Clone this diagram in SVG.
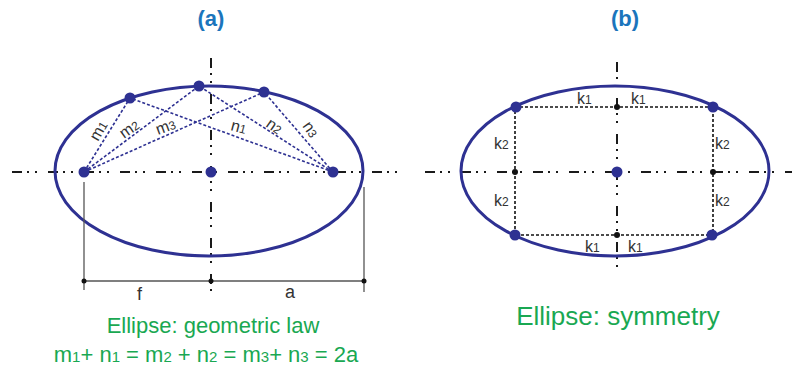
<svg xmlns="http://www.w3.org/2000/svg" width="801" height="371" viewBox="0 0 801 371">
<style>
.title{font-family:"Liberation Sans",Arial,sans-serif;font-weight:bold;font-size:22px;fill:#1b75bc;text-anchor:middle}
.green{font-family:"Liberation Sans",Arial,sans-serif;font-size:22px;fill:#19a852;text-anchor:middle}
.big{font-size:26px}
.lbl{font-family:"Liberation Sans",Arial,sans-serif;font-size:16px;fill:#333}
.dl{font-size:18px}
.sub{font-size:12px}
.gsub{font-size:15px}
.ell{fill:none;stroke:#2e3192;stroke-width:3}
.axis{fill:none;stroke:#1a1a1a;stroke-width:2;stroke-dasharray:10 5 2 6 2 11}
.bdash{fill:none;stroke:#2e3192;stroke-width:1.6;stroke-dasharray:3 2}
.kdash{fill:none;stroke:#111;stroke-width:1.6;stroke-dasharray:3 2}
.dim{fill:none;stroke:#555;stroke-width:1.3}
.pt{fill:#2e3192}
.sm{fill:#111}
</style>
<text class="title" x="211" y="26">(a)</text>
<text class="title" x="625" y="26">(b)</text>
<g id="axes">
<line class="axis" x1="12" y1="172" x2="398" y2="172"/>
<line class="axis" x1="211" y1="58" x2="211" y2="293"/>
<line class="axis" x1="425" y1="172" x2="792" y2="172"/>
<line class="axis" x1="617" y1="62" x2="617" y2="278"/>
</g>
<g id="ellipse-a"><ellipse class="ell" cx="209" cy="171" rx="154" ry="85"/></g>
<g id="ellipse-b"><ellipse class="ell" cx="615" cy="171" rx="154" ry="85"/></g>
<g id="connectors">
<line class="bdash" x1="84" y1="172" x2="130" y2="98"/>
<line class="bdash" x1="84" y1="172" x2="199" y2="86"/>
<line class="bdash" x1="84" y1="172" x2="264" y2="92"/>
<line class="bdash" x1="333" y1="172" x2="130" y2="98"/>
<line class="bdash" x1="333" y1="172" x2="199" y2="86"/>
<line class="bdash" x1="333" y1="172" x2="264" y2="92"/>
<rect class="kdash" x="515" y="107" width="198" height="128"/>
<line class="dim" x1="84" y1="182" x2="84" y2="290"/>
<line class="dim" x1="364" y1="187" x2="364" y2="292"/>
<line class="dim" x1="84" y1="281" x2="364" y2="281"/>
</g>
<g id="points-a">
<circle class="pt" cx="84" cy="172" r="5.5"/>
<circle class="pt" cx="211" cy="172" r="5.5"/>
<circle class="pt" cx="333" cy="172" r="5.5"/>
<circle class="pt" cx="130" cy="98" r="5.5"/>
<circle class="pt" cx="199" cy="86" r="5.5"/>
<circle class="pt" cx="264" cy="92" r="5.5"/>
<circle class="sm" cx="84" cy="281" r="2.5"/>
<circle class="sm" cx="211" cy="281" r="2.5"/>
<circle class="sm" cx="364" cy="281" r="2.5"/>
</g>
<g id="points-b">
<circle class="pt" cx="617" cy="172" r="5.5"/>
<circle class="pt" cx="516" cy="107" r="5.5"/>
<circle class="pt" cx="713" cy="107" r="5.5"/>
<circle class="pt" cx="515" cy="235" r="5.5"/>
<circle class="pt" cx="712" cy="235" r="5.5"/>
<circle class="sm" cx="617" cy="107" r="3"/>
<circle class="sm" cx="515" cy="172" r="3"/>
<circle class="sm" cx="713" cy="172" r="3"/>
<circle class="sm" cx="617" cy="235" r="3"/>
</g>
<g id="labels-a">
<text class="lbl" transform="translate(98,142) rotate(-60)">m<tspan class="sub">1</tspan></text>
<text class="lbl" transform="translate(124,139) rotate(-35)">m<tspan class="sub">2</tspan></text>
<text class="lbl" transform="translate(158,135) rotate(-20)">m<tspan class="sub">3</tspan></text>
<text class="lbl" transform="translate(230,130) rotate(15)">n<tspan class="sub">1</tspan></text>
<text class="lbl" transform="translate(265,126) rotate(35)">n<tspan class="sub">2</tspan></text>
<text class="lbl" transform="translate(302,126) rotate(55)">n<tspan class="sub">3</tspan></text>
<text class="lbl dl" x="137" y="300">f</text>
<text class="lbl dl" x="285" y="298">a</text>
</g>
<g id="labels-b">
<text class="lbl" x="577" y="104">k<tspan class="sub">1</tspan></text>
<text class="lbl" x="631" y="104">k<tspan class="sub">1</tspan></text>
<text class="lbl" x="585" y="252">k<tspan class="sub">1</tspan></text>
<text class="lbl" x="628" y="252">k<tspan class="sub">1</tspan></text>
<text class="lbl" x="494" y="149">k<tspan class="sub">2</tspan></text>
<text class="lbl" x="715" y="149">k<tspan class="sub">2</tspan></text>
<text class="lbl" x="494" y="206">k<tspan class="sub">2</tspan></text>
<text class="lbl" x="715" y="206">k<tspan class="sub">2</tspan></text>
</g>
<text class="green" x="213" y="333">Ellipse: geometric law</text>
<text class="green" x="206" y="362">m<tspan class="gsub">1</tspan>+ n<tspan class="gsub">1</tspan> = m<tspan class="gsub">2</tspan> + n<tspan class="gsub">2</tspan> = m<tspan class="gsub">3</tspan>+ n<tspan class="gsub">3</tspan> = 2a</text>
<text class="green big" x="618" y="325">Ellipse: symmetry</text>
</svg>
